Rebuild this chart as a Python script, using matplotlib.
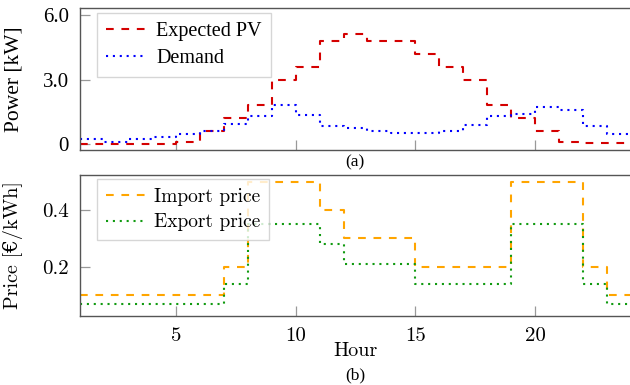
import numpy as np
import matplotlib
matplotlib.use('Agg')
import matplotlib.pyplot as plt

hours = np.arange(1, 25)
# values hold from hour h to h+1 (last one repeated for the step)
pv = [0, 0, 0, 0, 0.1, 0.6, 1.2, 1.8, 3.0, 3.6, 4.8, 5.1,
      4.8, 4.8, 4.2, 3.6, 3.0, 1.8, 1.2, 0.6, 0.08, 0.03, 0.03, 0.03]
demand = [0.22, 0.1, 0.22, 0.33, 0.45, 0.6, 0.92, 1.3, 1.8, 1.35, 0.83, 0.75,
          0.62, 0.52, 0.52, 0.6, 0.9, 1.3, 1.4, 1.7, 1.6, 0.83, 0.45, 0.45]
import_price = [0.1, 0.1, 0.1, 0.1, 0.1, 0.1, 0.2, 0.5, 0.5, 0.5, 0.4, 0.3,
                0.3, 0.3, 0.2, 0.2, 0.2, 0.2, 0.5, 0.5, 0.5, 0.2, 0.1, 0.1]
export_price = [0.07, 0.07, 0.07, 0.07, 0.07, 0.07, 0.14, 0.35, 0.35, 0.35, 0.28, 0.21,
                0.21, 0.21, 0.14, 0.14, 0.14, 0.14, 0.35, 0.35, 0.35, 0.14, 0.07, 0.07]

times = ['Liberation Serif', 'DejaVu Serif']
cm = ['cmr10', 'DejaVu Serif']

fig = plt.figure(figsize=(6.3, 3.85), dpi=100)
ax1 = fig.add_axes([80/630, 1-150/385, 551/630, 142/385])
ax2 = fig.add_axes([80/630, 1-316/385, 551/630, 141/385])

def style(ax):
    for s in ax.spines.values():
        s.set_color('#555555')
        s.set_linewidth(1.0)
    ax.tick_params(direction='in', length=7, width=0.9, color='#999999',
                   labelsize=15, pad=8)
    ax.set_xlim(1, 24)
    ax.set_xticks([5, 10, 15, 20])

style(ax1)
ax1.step(hours, pv, where='post', color='#d40000', lw=1.5, dashes=(3.7, 3.7),
         label='Expected PV')
ax1.step(hours, demand, where='post', color='#0000ff', lw=1.5, dashes=(1, 2.3),
         label='Demand')
ax1.set_ylim(-0.28, 6.33)
ax1.set_yticks([0, 3, 6])
ax1.set_yticklabels(['0', '3.0', '6.0'], family=times)
ax1.set_xticklabels([])
ax1.set_ylabel('Power [kW]', family=times, fontsize=15.5)
ax1.yaxis.set_label_coords(-0.103, 0.5)
leg = ax1.legend(loc='upper left', bbox_to_anchor=(0.031, 0.965), borderaxespad=0,
                 fancybox=False, edgecolor='#cccccc', handlelength=2.0,
                 handletextpad=0.5, prop={'family': times, 'size': 14.5},
                 borderpad=0.45, labelspacing=0.4)
leg.get_frame().set_linewidth(1.0)
fig.text(355/630, 1-162/385, '(a)', ha='center', va='center', family=times, fontsize=12.5)

style(ax2)
ax2.step(hours, import_price, where='post', color='#ffa500', lw=1.5, dashes=(3.7, 3.7),
         label='Import price')
ax2.step(hours, export_price, where='post', color='#109a10', lw=1.5, dashes=(1, 2.3),
         label='Export price')
ax2.set_ylim(0.026, 0.524)
ax2.set_yticks([0.2, 0.4])
ax2.set_yticklabels(['0.2', '0.4'], family=cm)
ax2.set_xticklabels(['5', '10', '15', '20'], family=cm)
ax2.set_xlabel('Hour', family=cm, fontsize=14.5)
ax2.xaxis.set_label_coords(0.5, -0.185)
ax2.set_ylabel('Price [€/kWh]', family=cm, fontsize=14.5)
ax2.yaxis.set_label_coords(-0.103, 0.5)
leg2 = ax2.legend(loc='upper left', bbox_to_anchor=(0.031, 0.972), borderaxespad=0,
                  fancybox=False, edgecolor='#cccccc', handlelength=2.0,
                  handletextpad=0.5, prop={'family': cm, 'size': 14},
                  borderpad=0.45, labelspacing=0.4)
leg2.get_frame().set_linewidth(1.0)
fig.text(355/630, 1-375/385, '(b)', ha='center', va='center', family=times, fontsize=12.5)

fig.savefig('out.png', dpi=100)
